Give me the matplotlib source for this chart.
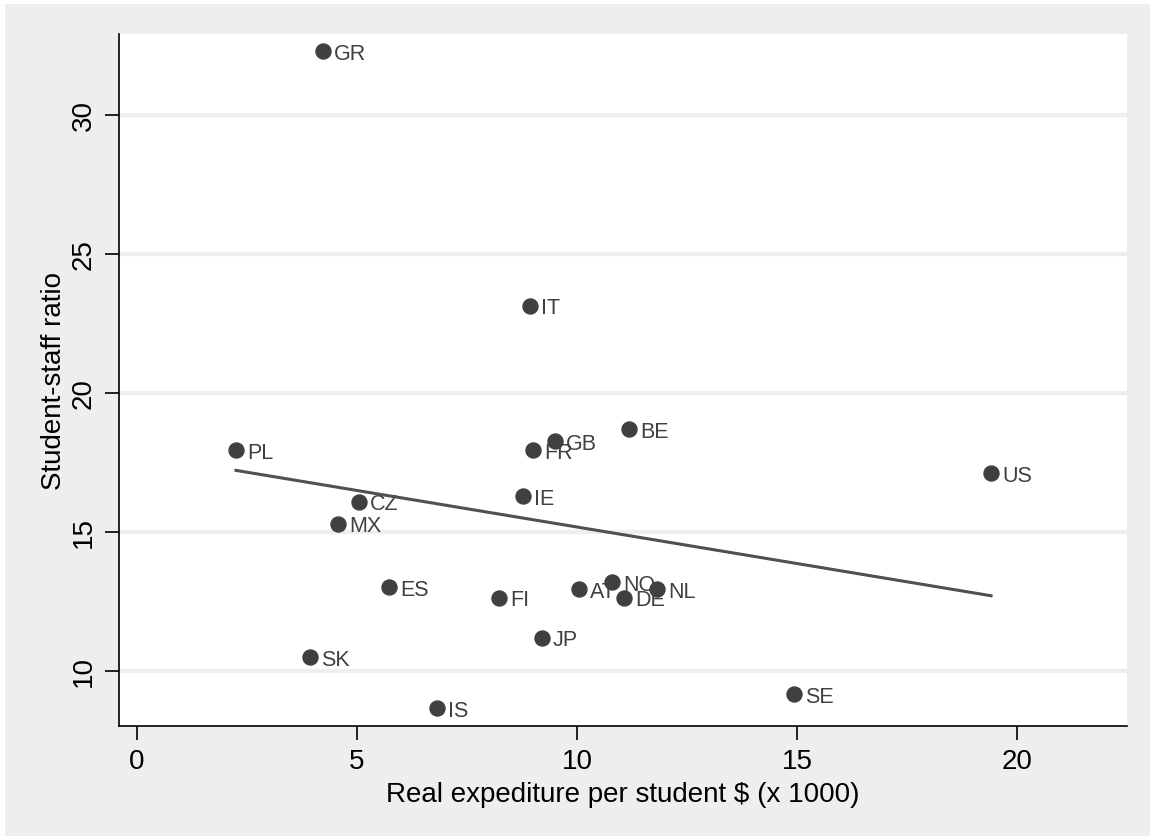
import numpy as np
import matplotlib
matplotlib.use("Agg")
import matplotlib.pyplot as plt
from matplotlib.patches import Rectangle

countries = ["GR", "IT", "PL", "BE", "GB", "FR", "US", "IE", "CZ", "MX",
             "ES", "FI", "AT", "NO", "DE", "NL", "JP", "SK", "IS", "SE"]
expenditure = [4.23, 8.93, 2.25, 11.18, 9.50, 9.00, 19.41, 8.77, 5.05, 4.57,
               5.73, 8.23, 10.05, 10.80, 11.07, 11.82, 9.20, 3.93, 6.82, 14.93]
ratio = [32.3, 23.13, 17.95, 18.7, 18.27, 17.95, 17.12, 16.29, 16.08, 15.29,
         13.02, 12.63, 12.95, 13.2, 12.63, 12.95, 11.19, 10.5, 8.67, 9.17]

xticks = [0, 5, 10, 15, 20]
yticks = [10, 15, 20, 25, 30]

plt.rcParams['font.family'] = ['Liberation Sans', 'DejaVu Sans']

fig = plt.figure(figsize=(11.5, 8.37), dpi=100)
fig.patch.set_facecolor('white')
fig.patches.append(Rectangle((5/1150, 0), 1 - 5/1150, 1 - 5/837,
                             transform=fig.transFigure, facecolor='#eeeeee',
                             edgecolor='none', zorder=-10))
ax = fig.add_axes([119/1150, 1 - 727/837, (1127 - 119)/1150, (727 - 35)/837])
ax.set_facecolor('white')

x = np.array(expenditure)
y = np.array(ratio)

for c, xi, yi in zip(countries, x, y):
    ax.annotate(c, (xi, yi), xytext=(8, -1.5), textcoords='offset points',
                ha='left', va='center', fontsize=15.5, color='#404040', zorder=2)
ax.plot(x, y, 'o', color='#404040', markersize=10.8, zorder=3)

b, a = np.polyfit(x, y, 1)
xs = np.array([x.min(), x.max()])
ax.plot(xs, a + b * xs, color='#505050', linewidth=2.2, zorder=4)

ax.set_xlim(-0.41, 22.5)
ax.set_ylim(8.02, 32.91)
ax.set_xticks(xticks)
ax.set_yticks(yticks)
ax.set_xticklabels([str(t) for t in xticks])
ax.set_yticklabels([str(t) for t in yticks], rotation=90, va='center')
ax.tick_params(axis='both', direction='out', length=10, width=1.2,
               labelsize=20, color='black', pad=6)
ax.grid(axis='y', color='#eeeeee', linewidth=3)
ax.set_axisbelow(True)
for s in ['top', 'right']:
    ax.spines[s].set_visible(False)
for s in ['left', 'bottom']:
    ax.spines[s].set_linewidth(1.2)

ax.set_xlabel("Real expediture per student $ (x 1000)", fontsize=20, labelpad=5)
ax.set_ylabel("Student-staff ratio", fontsize=20, labelpad=3)

fig.savefig("out.png", dpi=100)
